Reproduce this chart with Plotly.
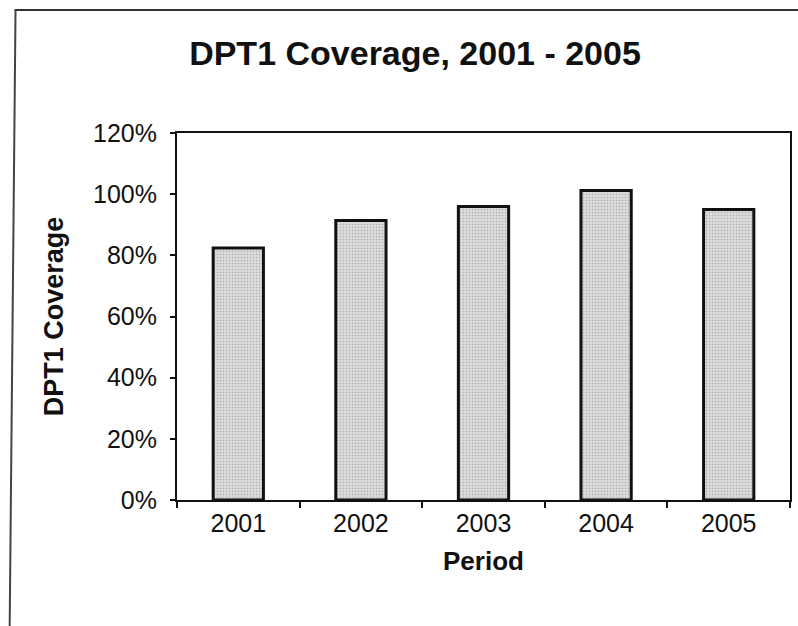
import plotly.graph_objects as go

periods = ["2001", "2002", "2003", "2004", "2005"]
coverage = [0.824, 0.914, 0.960, 1.012, 0.950]
y_ticks = [0, 0.2, 0.4, 0.6, 0.8, 1.0, 1.2]
y_tick_labels = ["0%", "20%", "40%", "60%", "80%", "100%", "120%"]

W, H = 798, 626
L, R, T, B = 177, 6, 133, 126
pw, ph = W - L - R, H - T - B

def px_x(x):
    return (x - L) / pw

def px_y(y):
    return (H - B - y) / ph

fig = go.Figure(
    go.Bar(
        x=periods,
        y=coverage,
        width=0.41,
        marker=dict(
            color="#d8d8d8",
            line=dict(color="#111111", width=3),
            pattern=dict(shape=".", fgcolor="#8c8c8c", bgcolor="#e0e0e0", size=3, solidity=0.35),
        ),
    )
)

fig.update_layout(
    width=W,
    height=H,
    margin=dict(l=L, r=R, t=T, b=B),
    paper_bgcolor="white",
    plot_bgcolor="white",
    showlegend=False,
    font=dict(family="Liberation Sans, Arial, sans-serif", color="#111111"),
    title=dict(
        text="<b>DPT1 Coverage, 2001 - 2005</b>",
        font=dict(size=34, color="#111111"),
        x=(415) / W,
        xanchor="center",
        y=1 - 53 / H,
        yanchor="middle",
    ),
    shapes=[
        dict(type="line", xref="paper", yref="paper",
             x0=px_x(14), x1=px_x(805), y0=px_y(10), y1=px_y(10),
             line=dict(color="#333333", width=2)),
        dict(type="line", xref="paper", yref="paper",
             x0=px_x(15), x1=px_x(9), y0=px_y(10), y1=px_y(640),
             line=dict(color="#444444", width=2)),
    ],
)

fig.update_xaxes(
    type="category",
    showgrid=False,
    showline=True,
    linecolor="#111111",
    linewidth=2,
    mirror=True,
    ticks="outside",
    tickson="boundaries",
    ticklen=6,
    tickcolor="#111111",
    tickwidth=1.5,
    tickfont=dict(size=25),
    title=dict(text="<b>Period</b>", font=dict(size=26), standoff=16),
)

fig.update_yaxes(
    range=[0, 1.2],
    tickvals=y_ticks,
    ticktext=y_tick_labels,
    showgrid=False,
    zeroline=False,
    showline=True,
    linecolor="#111111",
    linewidth=2,
    mirror=True,
    ticks="outside",
    ticklen=5,
    tickcolor="#111111",
    tickwidth=1.5,
    tickfont=dict(size=25),
    ticklabelstandoff=8,
    title=dict(text="<b>DPT1 Coverage</b>", font=dict(size=27), standoff=22),
)

fig.write_html("out.html")
